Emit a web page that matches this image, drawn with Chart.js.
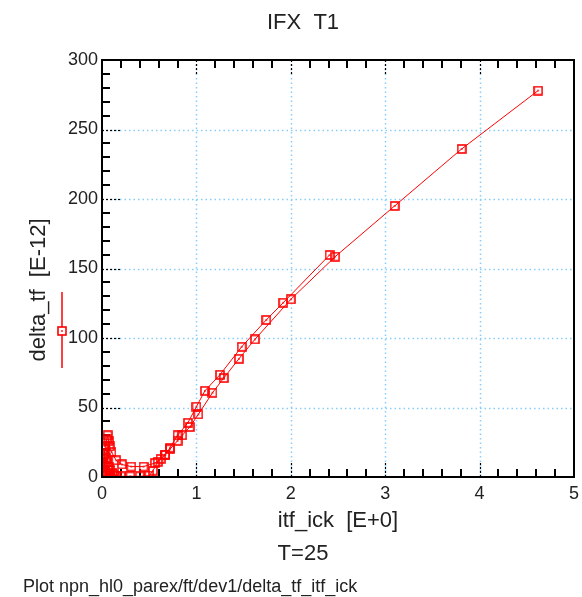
<!DOCTYPE html>
<html>
<head>
<meta charset="utf-8">
<script src="https://cdn.jsdelivr.net/npm/chart.js@4/dist/chart.umd.min.js"></script>
<style>
  html, body { margin: 0; padding: 0; background: #fff; }
  #wrap { position: relative; width: 582px; height: 597px; }
  #foot { position: absolute; left: 23px; top: 576px; font: 18px "Liberation Sans", Arial, sans-serif; color: #222; white-space: nowrap; }
</style>
</head>
<body>
<div id="wrap">
  <canvas id="c" width="582" height="597"></canvas>
  <div id="foot">Plot npn_hl0_parex/ft/dev1/delta_tf_itf_ick</div>
</div>
<script>
// ---- data ----
const chartTitle = 'IFX  T1';
const xTitle = 'itf_ick  [E+0]';
const yTitle = 'delta_tf  [E-12]';
const subTitle = 'T=25';

const xTicks = [0, 1, 2, 3, 4, 5];
const yTicks = [0, 50, 100, 150, 200, 250, 300];

const curve1X = [0.03, 0.05, 0.06, 0.07, 0.08, 0.10, 0.15, 0.21, 0.31, 0.44, 0.56, 0.62, 0.67, 0.72, 0.80, 0.85, 0.93, 1.02, 1.17, 1.29, 1.45, 1.62, 2.00, 2.47, 3.10, 3.81, 4.62];
const curve1Y = [22, 27, 30, 26, 22, 18, 12, 9, 7.5, 7.5, 10, 13, 16, 20, 26, 30, 36, 45, 60.6, 71.2, 85, 99, 127.8, 158.5, 195, 236, 278];

const curve2X = [0.01, 0.04, 0.08, 0.14, 0.20, 0.30, 0.40, 0.50, 0.54, 0.59, 0.67, 0.72, 0.80, 0.91, 1.00, 1.09, 1.25, 1.48, 1.74, 1.92, 2.41];
const curve2Y = [1, 1, 1, 1, 0.5, 0.5, 0.5, 1, 4.5, 11, 16, 21, 30, 39, 50.6, 62, 73.6, 93.7, 113, 125.4, 159.7];

const curve3X = [0.005, 0.01, 0.01, 0.015, 0.02, 0.02, 0.03, 0.03, 0.04, 0.05, 0.06, 0.07, 0.09, 0.11, 0.13, 0.16];
const curve3Y = [1, 4, 9, 13, 16, 20, 17, 8, 14, 11, 5, 7, 5, 3, 2, 1];

// ---- styles ----
const RED = '#ff0000';
const FONT = '"Liberation Sans", Arial, sans-serif';
const TXT = '#222';

function pts(xs, ys) { return xs.map((x, i) => ({ x: x, y: ys[i] })); }

function makeMarker() {
  const c = document.createElement('canvas');
  c.width = 10; c.height = 10;
  const g = c.getContext('2d');
  g.strokeStyle = RED; g.lineWidth = 1.6;
  g.strokeRect(1, 1, 8, 8);
  g.fillStyle = RED;
  g.fillRect(4.2, 4.2, 1.6, 1.6);
  return c;
}
const marker = makeMarker();

function ds(xs, ys) {
  return {
    data: pts(xs, ys),
    showLine: true,
    borderColor: RED,
    backgroundColor: RED,
    borderWidth: 1,
    pointStyle: marker,
    pointRadius: 5,
    pointHoverRadius: 5,
    clip: 0,
    tension: 0
  };
}

const framePlugin = {
  id: 'frame',
  beforeDatasetsDraw(chart) {
    const { ctx, chartArea: a, scales: { x, y } } = chart;
    ctx.save();
    // grid
    ctx.strokeStyle = '#87cefa';
    ctx.lineWidth = 1.5;
    ctx.setLineDash([1.5, 3]);
    xTicks.slice(1, -1).forEach(v => {
      const px = Math.round(x.getPixelForValue(v)) + 0.5;
      ctx.beginPath(); ctx.moveTo(px, a.top); ctx.lineTo(px, a.bottom); ctx.stroke();
    });
    yTicks.slice(1, -1).forEach(v => {
      const py = Math.round(y.getPixelForValue(v)) + 0.5;
      ctx.beginPath(); ctx.moveTo(a.left, py); ctx.lineTo(a.right, py); ctx.stroke();
    });
    // major ticks (black dashed)
    ctx.strokeStyle = '#000';
    ctx.lineWidth = 1.2;
    ctx.setLineDash([2, 2]);
    xTicks.slice(1, -1).forEach(v => {
      const px = Math.round(x.getPixelForValue(v)) + 0.5;
      ctx.beginPath(); ctx.moveTo(px, a.top); ctx.lineTo(px, a.top + 14); ctx.stroke();
      ctx.beginPath(); ctx.moveTo(px, a.bottom); ctx.lineTo(px, a.bottom - 14); ctx.stroke();
    });
    yTicks.slice(1, -1).forEach(v => {
      const py = Math.round(y.getPixelForValue(v)) + 0.5;
      ctx.beginPath(); ctx.moveTo(a.left, py); ctx.lineTo(a.left + 18, py); ctx.stroke();
    });
    // minor ticks
    ctx.setLineDash([]);
    ctx.lineWidth = 2;
    for (let i = 1; i < 25; i++) {
      if (i % 5 === 0) continue;
      const px = Math.round(x.getPixelForValue(i * 0.2));
      ctx.beginPath(); ctx.moveTo(px, a.top); ctx.lineTo(px, a.top + 8); ctx.stroke();
      ctx.beginPath(); ctx.moveTo(px, a.bottom); ctx.lineTo(px, a.bottom - 8); ctx.stroke();
    }
    for (let i = 1; i < 30; i++) {
      if (i % 5 === 0) continue;
      const py = Math.round(y.getPixelForValue(i * 10));
      ctx.beginPath(); ctx.moveTo(a.left, py); ctx.lineTo(a.left + 8, py); ctx.stroke();
    }
    ctx.restore();
  },
  afterDatasetsDraw(chart) {
    const { ctx, chartArea: a } = chart;
    ctx.save();
    ctx.strokeStyle = '#000';
    ctx.lineWidth = 2;
    ctx.strokeRect(a.left, a.top, a.right - a.left, a.bottom - a.top);
    // y title
    ctx.fillStyle = TXT;
    ctx.font = '22px ' + FONT;
    ctx.textAlign = 'center';
    ctx.textBaseline = 'middle';
    ctx.translate(39, 290);
    ctx.rotate(-Math.PI / 2);
    ctx.fillText(yTitle, 0, 0);
    ctx.restore();
    // legend symbol
    ctx.save();
    ctx.strokeStyle = RED; ctx.lineWidth = 1.5;
    ctx.beginPath(); ctx.moveTo(62, 292); ctx.lineTo(62, 368); ctx.stroke();
    ctx.fillStyle = '#fff';
    ctx.fillRect(58, 327, 8, 8);
    ctx.drawImage(marker, 57, 326);
    ctx.restore();
  }
};

new Chart(document.getElementById('c'), {
  type: 'scatter',
  data: { datasets: [ds(curve2X, curve2Y), ds(curve3X, curve3Y), ds(curve1X, curve1Y)] },
  options: {
    responsive: false,
    animation: false,
    events: [],
    layout: { padding: { left: 24, right: 0, top: 0, bottom: 0 } },
    plugins: {
      legend: { display: false },
      tooltip: { enabled: false },
      title: {
        display: true, text: chartTitle, color: TXT,
        font: { family: FONT, size: 22, weight: 'normal' },
        padding: { top: 9.8, bottom: 23.8 }
      },
      subtitle: {
        display: true, text: subTitle, position: 'bottom', color: TXT,
        font: { family: FONT, size: 22, weight: 'normal' },
        padding: { top: 2, bottom: 29.8 }
      }
    },
    scales: {
      x: {
        type: 'linear', min: 0, max: 5,
        afterBuildTicks: s => { s.ticks = xTicks.map(v => ({ value: v })); },
        afterFit: s => { s.height = 61.8; s.paddingRight = 8; },
        grid: { display: false, drawTicks: false },
        border: { display: false },
        ticks: { color: TXT, font: { family: FONT, size: 18 }, padding: 6, maxRotation: 0 },
        title: { display: true, text: xTitle, color: TXT, font: { family: FONT, size: 22 }, padding: { top: 0, bottom: 4.6 } }
      },
      y: {
        type: 'linear', min: 0, max: 300,
        afterBuildTicks: s => { s.ticks = yTicks.map(v => ({ value: v })); },
        afterFit: s => { s.width = 78; },
        grid: { display: false, drawTicks: false },
        border: { display: false },
        ticks: { color: TXT, font: { family: FONT, size: 18 }, padding: 4 },
        title: { display: false }
      }
    }
  },
  plugins: [framePlugin]
});
</script>
</body>
</html>
